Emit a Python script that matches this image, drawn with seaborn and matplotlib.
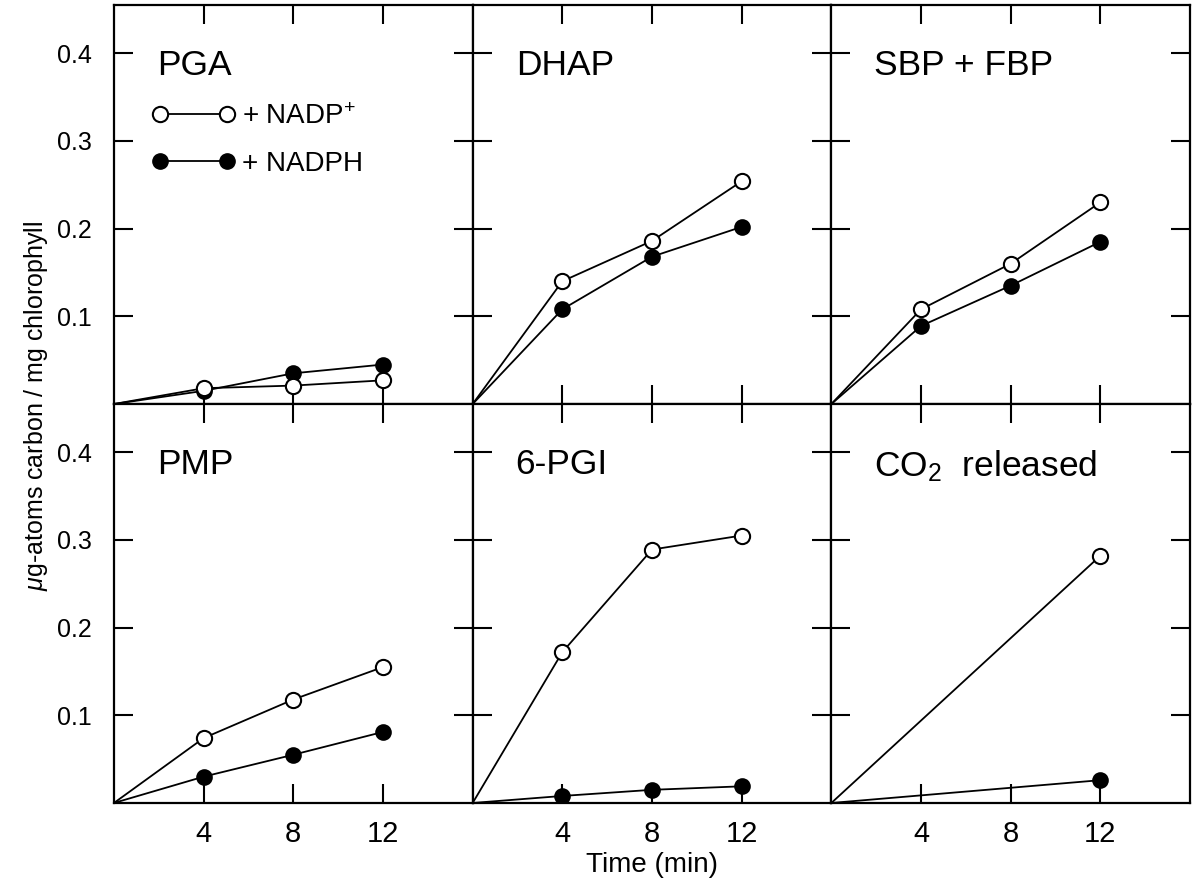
import numpy as np
import pandas as pd
import matplotlib
matplotlib.use("Agg")
import matplotlib.pyplot as plt
import seaborn as sns
from matplotlib.lines import Line2D

# ---------------- data ----------------
panels = ["PGA", "DHAP", "SBP + FBP", "PMP", "6-PGI", "CO$_2$  released"]
times = [0, 4, 8, 12]
co2_times = [0, 12]

pga_nadp = [0, 0.018, 0.021, 0.027]
pga_nadph = [0, 0.015, 0.035, 0.045]
dhap_nadp = [0, 0.140, 0.186, 0.254]
dhap_nadph = [0, 0.108, 0.168, 0.202]
sbp_nadp = [0, 0.108, 0.160, 0.230]
sbp_nadph = [0, 0.089, 0.135, 0.185]
pmp_nadp = [0, 0.074, 0.118, 0.155]
pmp_nadph = [0, 0.030, 0.055, 0.081]
pgi_nadp = [0, 0.172, 0.289, 0.305]
pgi_nadph = [0, 0.008, 0.015, 0.019]
co2_nadp = [0, 0.282]
co2_nadph = [0, 0.026]

series = {
    "PGA": (times, pga_nadp, pga_nadph),
    "DHAP": (times, dhap_nadp, dhap_nadph),
    "SBP + FBP": (times, sbp_nadp, sbp_nadph),
    "PMP": (times, pmp_nadp, pmp_nadph),
    "6-PGI": (times, pgi_nadp, pgi_nadph),
    "CO$_2$  released": (co2_times, co2_nadp, co2_nadph),
}

y_ticks = [0.1, 0.2, 0.3, 0.4]
y_tick_labels = ["0.1", "0.2", "0.3", "0.4"]
x_ticks = [4, 8, 12]
x_tick_labels = ["4", "8", "12"]

# ---------------- style ----------------
sns.set_style("ticks")
plt.rcParams["font.family"] = ["Liberation Sans", "DejaVu Sans"]
plt.rcParams["mathtext.fontset"] = "custom"
plt.rcParams["mathtext.rm"] = "Liberation Sans"
plt.rcParams["mathtext.it"] = "Liberation Sans:italic"
plt.rcParams["text.color"] = "black"
plt.rcParams["axes.labelcolor"] = "black"
plt.rcParams["xtick.color"] = "black"
plt.rcParams["ytick.color"] = "black"

fig, axes = plt.subplots(2, 3, figsize=(11.97, 8.82), dpi=100, sharex=True, sharey=True)
fig.subplots_adjust(left=0.0952, right=0.9942, top=0.9943, bottom=0.0896, wspace=0, hspace=0)

for ax, name in zip(axes.flat, panels):
    t, a, b = series[name]
    df = pd.DataFrame({"t": list(t) * 2, "v": list(a) + list(b),
                       "cond": ["NADP"] * len(t) + ["NADPH"] * len(t)})
    sns.lineplot(data=df[df.cond == "NADP"], x="t", y="v", ax=ax, color="black", lw=1.3)
    sns.lineplot(data=df[df.cond == "NADPH"], x="t", y="v", ax=ax, color="black", lw=1.3)
    d1 = df[(df.cond == "NADP") & (df.t > 0)]
    d2 = df[(df.cond == "NADPH") & (df.t > 0)]
    sns.scatterplot(data=d2, x="t", y="v", ax=ax, color="black", edgecolor="black",
                    s=110, linewidth=1.5, zorder=5)
    sns.scatterplot(data=d1, x="t", y="v", ax=ax, color="white", edgecolor="black",
                    s=120, linewidth=1.5, zorder=6)
    ax.set_xlim(0, 16)
    ax.set_ylim(0, 0.455)
    ax.set_xlabel("")
    ax.set_ylabel("")
    ax.set_xticks(x_ticks)
    ax.set_yticks(y_ticks)
    ax.tick_params(direction="in", length=14, width=1.5, top=True, right=True,
                   labelsize=18, pad=16, colors="black")
    ax.tick_params(axis="x", pad=12)
    for s in ax.spines.values():
        s.set_linewidth(1.6)
        s.set_color("black")
    ax.text(0.12, 0.89, name, transform=ax.transAxes, fontsize=25.5, va="top", ha="left",
            color="black")

for ax in axes[:, 0]:
    ax.set_yticklabels(y_tick_labels)
for ax in axes[1, :]:
    ax.set_xticklabels(x_tick_labels, family=["Liberation Sans Narrow", "Liberation Sans"], fontsize=21)

# legend in PGA panel
h1 = Line2D([], [], color="black", lw=1.3, marker="o", markersize=11, markerfacecolor="white",
            markeredgecolor="black", markeredgewidth=1.5)
h2 = Line2D([], [], color="black", lw=1.3, marker="o", markersize=11, markerfacecolor="black",
            markeredgecolor="black")
axes[0, 0].legend([h1, h2], ["+ NADP$^{+}$", "+ NADPH"], numpoints=2, handlelength=3.0,
                  handletextpad=0.25, fontsize=20, frameon=False, loc="upper left",
                  bbox_to_anchor=(0.035, 0.815), labelspacing=0.75, labelcolor="black")

fig.text(0.030, 0.54, "$\\mu$g-atoms carbon / mg chlorophyll", rotation=90,
         ha="center", va="center", fontsize=18, color="black")
fig.text(0.545, 0.019, "Time (min)", ha="center", va="center", fontsize=20,
         family=["Liberation Sans Narrow", "Liberation Sans"], color="black")

fig.savefig("out.png", dpi=100)
